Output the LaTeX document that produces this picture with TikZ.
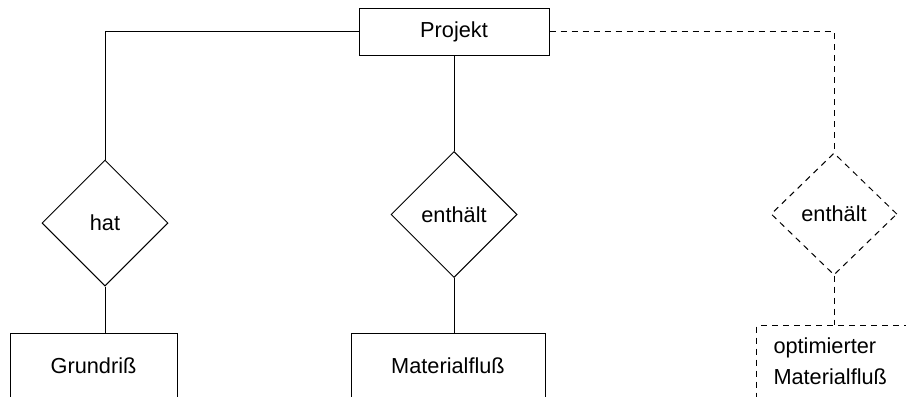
\documentclass[tikz,border=0pt]{standalone}
\usepackage{fontspec}
\setmainfont{Liberation Sans}
\usetikzlibrary{shapes.geometric}

\tikzset{
  er/.style={line width=0.75pt, font=\fontsize{16.3}{23.25}\selectfont},
  entity/.style={er, draw, rectangle, inner sep=0pt},
  relation/.style={er, draw, diamond, aspect=1, inner sep=0pt,
                   minimum width=94.5pt, minimum height=94.5pt},
  conn/.style={line width=0.75pt},
  dashpat/.style={dash pattern=on 4.5pt off 3.75pt}
}

\begin{document}
\begin{tikzpicture}[x=0.75pt, y=-0.75pt]
  \useasboundingbox (0,0) rectangle (906,396);
  \clip (0,0) rectangle (906,396);

  % central entity
  \node[entity, minimum width=142.5pt, minimum height=35.25pt] (proj) at (454,31.5) {Projekt};

  % relationships
  \node[relation] (hat)  at (105,223)   {hat};
  \node[relation] (cont) at (454,214.5) {enthält};
  \node[relation, dashpat, minimum height=91.5pt] (opt) at (834,214) {enthält};

  % dependent entities (continue below the frame)
  \node[entity, minimum width=125.25pt, minimum height=49.5pt] (grund) at (93.5,366) {Grundriß};
  \node[entity, minimum width=145.5pt, minimum height=49.5pt] (mat) at (448,366) {Materialfluß};
  \node[entity, dashpat, anchor=north west, align=left,
        text width=124.5pt, inner xsep=12.75pt, minimum height=54pt]
        (optmat) at (756,325) {optimierter\\Materialfluß};

  % connectors
  \draw[conn] (proj.west) -| (hat.north);
  \draw[conn] (proj.south) -- (cont.north);
  \draw[conn, dashpat] (proj.east) -| (opt.north);
  \draw[conn] (hat.south) -- (hat.south |- grund.north);
  \draw[conn] (cont.south) -- (cont.south |- mat.north);
  \draw[conn, dashpat] (opt.south) -- (opt.south |- optmat.north);
\end{tikzpicture}
\end{document}
